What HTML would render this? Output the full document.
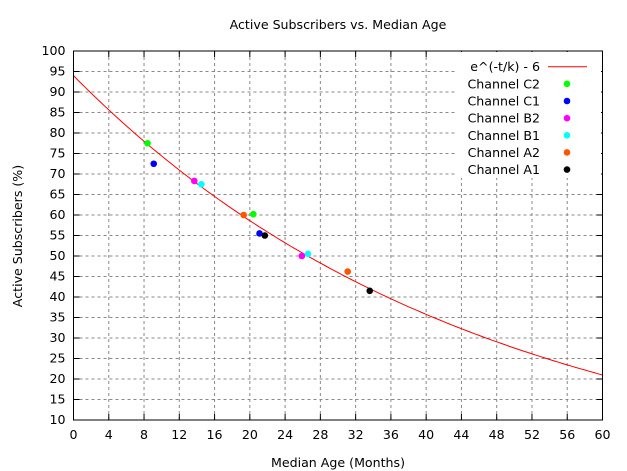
<!DOCTYPE html>
<html><head><meta charset="utf-8"><style>
body{margin:0;background:#fff}
svg{display:block;font-family:"DejaVu Sans",sans-serif}
</style></head><body>
<svg id="s" width="627" height="471" xmlns="http://www.w3.org/2000/svg"></svg>
<script>
var L=73.5,R=602.5,T=51,B=420,F=12.6;
function X(v){return L+(R-L)*v/60}
function Y(v){return B-(B-T)*(v-10)/90}
var h='<rect width="627" height="471" fill="#fff"/>';
h+='<text x="338" y="29" font-size="'+F+'" text-anchor="middle">Active Subscribers vs. Median Age</text>';
for(var i=0;i<=15;i++){var x=X(i*4);
 if(i>0&&i<15)h+='<line x1="'+x+'" y1="'+T+'" x2="'+x+'" y2="'+B+'" stroke="#888" stroke-dasharray="3,3"/>';
 h+='<line x1="'+x+'" y1="'+B+'" x2="'+x+'" y2="'+(B-6)+'" stroke="#000"/><line x1="'+x+'" y1="'+T+'" x2="'+x+'" y2="'+(T+6)+'" stroke="#000"/>';
 h+='<text x="'+x+'" y="'+(B+19)+'" font-size="'+F+'" text-anchor="middle">'+(i*4)+'</text>';}
for(var j=10;j<=100;j+=5){var y=Y(j);
 if(j>10&&j<100)h+='<line x1="'+L+'" y1="'+y+'" x2="'+R+'" y2="'+y+'" stroke="#888" stroke-dasharray="3,3"/>';
 h+='<line x1="'+L+'" y1="'+y+'" x2="'+(L+6)+'" y2="'+y+'" stroke="#000"/><line x1="'+R+'" y1="'+y+'" x2="'+(R-6)+'" y2="'+y+'" stroke="#000"/>';
 h+='<text x="'+(L-8)+'" y="'+(y+4)+'" font-size="'+F+'" text-anchor="end">'+j+'</text>';}
h+='<rect x="455" y="'+(T+1)+'" width="146" height="126" fill="#fff"/>';
var p=[];for(var t=0;t<=60;t+=0.5)p.push(X(t).toFixed(1)+','+Y(100*Math.exp(-t/45.8)-6).toFixed(1));
h+='<polyline points="'+p.join(' ')+'" fill="none" stroke="#f00" stroke-width="1"/>';
var S=[["e^(-t/k) - 6",null,[]],["Channel C2","#0f0",[[8.4,77.5],[20.4,60.2]]],["Channel C1","#00f",[[9.1,72.5],[21.1,55.5]]],["Channel B2","#f0f",[[13.7,68.3],[25.9,50]]],["Channel B1","#0ff",[[14.5,67.5],[26.6,50.5]]],["Channel A2","#f50",[[19.3,60],[31.1,46.2]]],["Channel A1","#000",[[21.7,55],[33.6,41.5]]]];
S.forEach(function(s,k){var y=66.7+k*17.15;
 h+='<text x="540" y="'+(y+4.5)+'" font-size="'+F+'" text-anchor="end">'+s[0]+'</text>';
 if(!s[1])h+='<line x1="548" y1="'+y+'" x2="587" y2="'+y+'" stroke="#f00"/>';
 else{h+='<circle cx="567" cy="'+y+'" r="3.3" fill="'+s[1]+'"/>';
 s[2].forEach(function(q){h+='<circle cx="'+X(q[0])+'" cy="'+Y(q[1])+'" r="3.3" fill="'+s[1]+'"/>';});}
});
h+='<rect x="'+L+'" y="'+T+'" width="'+(R-L)+'" height="'+(B-T)+'" fill="none" stroke="#000"/>';
h+='<text x="338" y="467" font-size="'+F+'" text-anchor="middle">Median Age (Months)</text>';
h+='<text transform="translate(22,236) rotate(-90)" font-size="'+F+'" text-anchor="middle">Active Subscribers (%)</text>';
document.getElementById('s').innerHTML=h;
</script>
</body></html>
